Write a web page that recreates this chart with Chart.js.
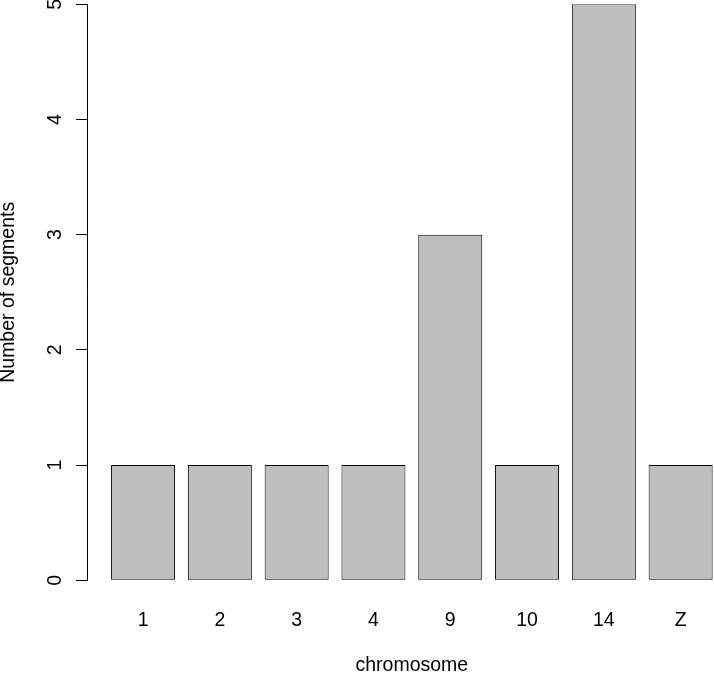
<!DOCTYPE html>
<html>
<head>
<meta charset="utf-8">
<script src="https://cdn.jsdelivr.net/npm/chart.js@4/dist/chart.umd.min.js"></script>
<style>
  html, body { margin: 0; padding: 0; background: #ffffff; overflow: hidden; width: 714px; height: 673px; }
  #wrap { position: absolute; left: 0; top: 0; width: 740px; height: 680px; }
</style>
</head>
<body>
<div id="wrap"><canvas id="c" width="740" height="680"></canvas></div>
<script>
// ---- data ----
const categories = ['1', '2', '3', '4', '9', '10', '14', 'Z'];
const segmentCounts = [1, 1, 1, 1, 3, 1, 5, 1];
const yTicks = [0, 1, 2, 3, 4, 5];
const xTitle = 'chromosome';
const yTitle = 'Number of segments';

// R barplot geometry: bar width 1, space 0.2
const SPACE = 0.2, WIDTH = 1;
const centers = categories.map((c, i) => SPACE + WIDTH / 2 + i * (SPACE + WIDTH));
const nBars = categories.length;
const xLo = SPACE, xHi = nBars * (SPACE + WIDTH);
const ext = (xHi - xLo) * 0.04;

const points = categories.map((c, i) => ({ x: centers[i], y: segmentCounts[i] }));

const FONT = { family: "'Liberation Sans', Arial, sans-serif", size: 19.5 };

Chart.defaults.font.family = FONT.family;
Chart.defaults.color = '#000000';

new Chart(document.getElementById('c'), {
  type: 'bar',
  data: {
    datasets: [{
      data: points,
      backgroundColor: '#bebebe',
      borderColor: '#000000',
      borderWidth: 1,
      borderSkipped: false,
      barPercentage: WIDTH / (WIDTH + SPACE),
      categoryPercentage: 1
    }]
  },
  options: {
    responsive: false,
    animation: false,
    devicePixelRatio: 1,
    layout: { padding: { left: 0, right: 3.3, top: 4.3, bottom: 0 } },
    plugins: { legend: { display: false }, tooltip: { enabled: false } },
    scales: {
      x: {
        type: 'linear',
        offset: false,
        min: xLo - ext,
        max: xHi + ext,
        grid: { display: false, drawTicks: false, offset: false },
        border: { display: false },
        afterBuildTicks: (scale) => { scale.ticks = centers.map(v => ({ value: v })); },
        afterFit: (scale) => { scale.height = 99.7; scale.paddingLeft = 0; scale.paddingRight = 0; },
        ticks: {
          autoSkip: false,
          maxRotation: 0,
          minRotation: 0,
          padding: 29.0,
          color: '#000000',
          font: FONT,
          callback: (value, index) => categories[index]
        },
        title: {
          display: true,
          text: xTitle,
          color: '#000000',
          font: FONT,
          padding: { top: 0, bottom: 3.0 }
        }
      },
      y: {
        type: 'linear',
        min: yTicks[0],
        max: yTicks[yTicks.length - 1],
        afterBuildTicks: (scale) => { scale.ticks = yTicks.map(v => ({ value: v })); },
        afterFit: (scale) => { scale.width = 87; scale.paddingTop = 0; scale.paddingBottom = 0; },
        grid: {
          display: true,
          drawOnChartArea: false,
          drawTicks: true,
          tickLength: 11,
          tickColor: '#000000',
          color: '#000000',
          lineWidth: 1
        },
        border: { display: true, color: '#000000', width: 1 },
        ticks: {
          minRotation: 90,
          maxRotation: 90,
          crossAlign: 'center',
          padding: 14.7,
          color: '#000000',
          font: FONT
        },
        title: {
          display: true,
          text: yTitle,
          color: '#000000',
          font: FONT,
          padding: { top: -2.6, bottom: 0 }
        }
      }
    }
  }
});
</script>
</body>
</html>
